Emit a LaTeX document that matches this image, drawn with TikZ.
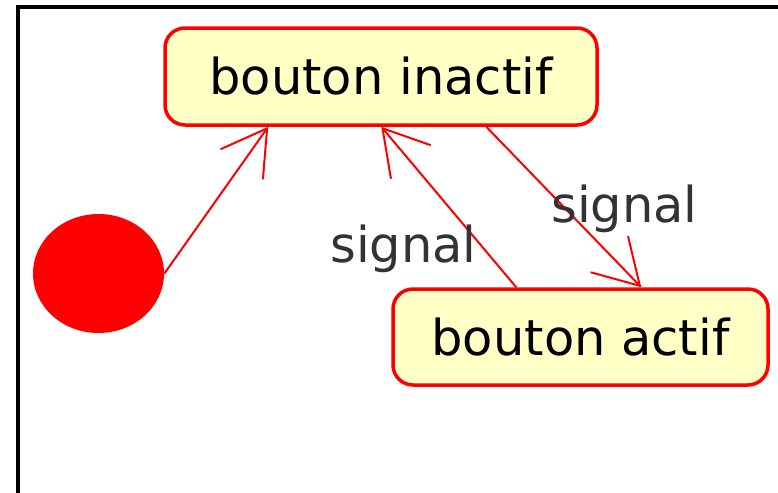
\documentclass[tikz,border=0pt]{standalone}
\usepackage{fontspec}
\setmainfont{DejaVu Sans}
\usetikzlibrary{arrows.meta,shapes.geometric}
\definecolor{stateyellow}{RGB}{255,255,198}
\begin{document}
\begin{tikzpicture}
    [
    x=0.5pt,y=-0.5pt,
    state/.style={rectangle,draw=red,fill=stateyellow,line width=1.75pt,rounded corners=10pt,inner sep=0pt,font=\fontsize{24.75}{30}\selectfont},
    start/.style={ellipse,fill=red,inner sep=0pt,minimum width=65.5pt,minimum height=59.5pt},
    trans/.style={draw=red,line width=1pt,-{Straight Barb[length=22pt,width=26pt]}},
    event/.style={anchor=base,inner sep=0pt,text=black!80,font=\fontsize{24.75}{30}\selectfont}
    ]
    \useasboundingbox (0,0) rectangle (778,493);
    \draw [line width=2pt] (18,493) -- (18,7) -- (778,7);
    \node (init) at (98.5,273.5) [start] {};
    \node (inactif) at (381,76.5) [state,minimum width=216pt,minimum height=48.5pt] {bouton inactif};
    \node (actif) at (580.5,337) [state,minimum width=187.5pt,minimum height=48pt] {bouton actif};
    \draw [trans] (init.east) to ([xshift=52.5pt]inactif.south west);
    \draw [trans] ([xshift=62.5pt]actif.north west) to ([xshift=109pt]inactif.south west);
    \draw [trans] ([xshift=161.5pt]inactif.south west) to ([xshift=125pt]actif.north west);
    \node (sig1) at (403.5,262) [event] {signal};
    \node (sig2) at (624.5,222) [event] {signal};
  \end{tikzpicture}
\end{document}
